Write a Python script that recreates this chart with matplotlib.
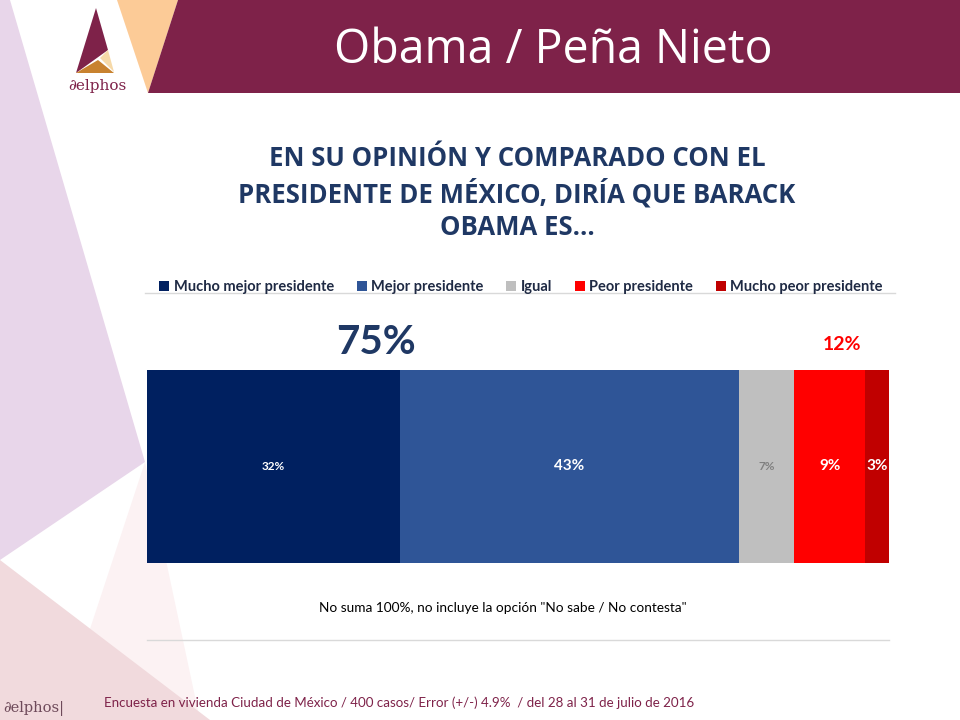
import numpy as np
import matplotlib.pyplot as plt
from matplotlib.patches import Polygon

# datos
categorias = ['Mucho mejor presidente', 'Mejor presidente', 'Igual',
              'Peor presidente', 'Mucho peor presidente']
valores = [32, 43, 7, 9, 3]
colores = ['#002060', '#2F5597', '#BFBFBF', '#FF0000', '#C00000']
color_etiqueta = ['white', 'white', '#808080', 'white', 'white']
tam_etiqueta = [8.5, 11, 8.5, 11, 11]

mejor = valores[0] + valores[1]
peor = valores[3] + valores[4]

W, H = 960, 720
fig = plt.figure(figsize=(W / 100, H / 100), dpi=100)

# fondo con las formas decorativas (coordenadas en pixeles)
bg = fig.add_axes([0, 0, 1, 1])
bg.set_xlim(0, W)
bg.set_ylim(H, 0)
bg.axis('off')

formas = [
    ([(0, 0), (10, 0), (145, 462), (0, 560)], '#E8D6EA'),
    ([(145, 462), (60, 720), (200, 720)], '#FCF2F3'),
    ([(0, 560), (0, 720), (210, 720)], '#F1DADD'),
    ([(117, 0), (178, 0), (148, 93)], '#FCCB97'),
    ([(178, 0), (W, 0), (W, 93), (148, 93)], '#7E2249'),
    # logo
    ([(96, 8), (76, 73), (108, 50)], '#7E2249'),
    ([(76, 73), (114, 73), (98, 60)], '#C8822F'),
    ([(100, 58), (108, 50), (114, 72)], '#F6D9A8'),
]
for pts, c in formas:
    bg.add_patch(Polygon(pts, closed=True, color=c, lw=0))

bg.text(97, 86, '∂elphos', family='DejaVu Serif', fontsize=11,
        color='#7E2249', ha='center', va='center')
bg.text(553, 50, 'Obama / Peña Nieto', family='Open Sans', fontsize=33.5,
        color='white', ha='center', va='center')

bg.text(517, 193,
        'EN SU OPINIÓN Y COMPARADO CON EL\nPRESIDENTE DE MÉXICO, DIRÍA QUE BARACK\nOBAMA ES…',
        family='Open Sans', fontweight='bold', fontsize=18.5, color='#1F3864',
        ha='center', va='center', linespacing=1.28)

bg.text(503, 608, 'No suma 100%, no incluye la opción "No sabe / No contesta"',
        family='Lato', fontsize=9.8, color='black', ha='center', va='center')
bg.plot([147, 889], [640, 640], color='#D9D9D9', lw=1)
bg.plot([145, 895], [293, 293], color='#D9D9D9', lw=1)

bg.text(104, 703,
        'Encuesta en vivienda Ciudad de México / 400 casos/ Error (+/-) 4.9%  / del 28 al 31 de julio de 2016',
        family='Lato', fontsize=9.6, color='#7E2249', ha='left', va='center')
bg.text(3, 708, '∂elphos|', family='DejaVu Serif', fontsize=10.5,
        color='#6E4A5A', ha='left', va='center')

# grafica de barra apilada
ax = fig.add_axes([147 / W, (H - 563) / H, 742 / W, 193 / H])
izq = np.concatenate([[0], np.cumsum(valores)[:-1]])
barras = []
for cat, v, l, c in zip(categorias, valores, izq, colores):
    b = ax.barh(0, v, left=l, height=1, color=c, label=cat)
    barras.append(b)
for v, l, ce, t in zip(valores, izq, color_etiqueta, tam_etiqueta):
    ax.text(l + v / 2, 0, f'{v}%', ha='center', va='center', color=ce,
            fontsize=t, fontweight='bold', family='Lato')
ax.set_xlim(0, sum(valores))
ax.set_ylim(-0.5, 0.5)
ax.axis('off')

ax.text(29, 0.645, f'{mejor}%', ha='center', va='center', color='#1F3864',
        fontsize=29, fontweight='bold', family='Lato')
ax.text(izq[3] + peor / 2, 0.63, f'{peor}%', ha='center', va='center',
        color='#FF0000', fontsize=14, fontweight='bold', family='Lato')

fig.legend(handles=barras, loc='center', bbox_to_anchor=(521 / W, (H - 287) / H),
           ncol=5, frameon=False, prop={'family': 'Lato', 'weight': 'bold', 'size': 10.5},
           handlelength=0.7, handleheight=0.7, handletextpad=0.3, columnspacing=1.55,
           labelcolor='#1F2A44')

fig.savefig('out.png', dpi=100)
